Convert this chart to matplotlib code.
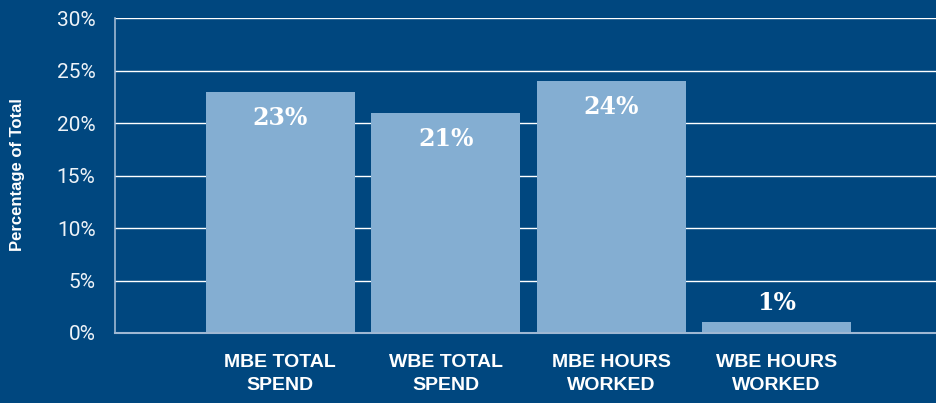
import matplotlib.pyplot as plt
import numpy as np

categories = ["MBE TOTAL\nSPEND", "WBE TOTAL\nSPEND", "MBE HOURS\nWORKED", "WBE HOURS\nWORKED"]
values = [23, 21, 24, 1]
value_labels = ["23%", "21%", "24%", "1%"]
y_ticks = [0, 5, 10, 15, 20, 25, 30]

BG = "#00477f"
BAR = "#84aed2"
SANS = ["Roboto", "Liberation Sans", "DejaVu Sans"]
BOLD = ["Liberation Sans", "DejaVu Sans"]

fig = plt.figure(figsize=(9.37, 4.03), dpi=100, facecolor=BG)
ax = fig.add_axes([0.1227, 0.1737, 0.8773, 0.7816], facecolor=BG)

x = np.arange(len(categories))
ax.bar(x, values, width=0.9, color=BAR, zorder=2)

for xi, v, lab in zip(x, values, value_labels):
    # big bars get the label inside, the small one sits above
    y = v - 2.5 if v > 5 else v + 1.9
    ax.text(xi, y, lab, ha="center", va="center", color="white",
            fontsize=17, fontweight="bold", family="DejaVu Serif", zorder=3)

ax.set_xlim(-1, 3.97)
ax.set_ylim(0, 30)
ax.set_yticks(y_ticks)
ax.set_yticklabels([f"{t}%" for t in y_ticks], family=SANS,
                   fontsize=15, color="#eef3f8")
ax.set_xticks(x)
ax.set_xticklabels(categories, family=BOLD, fontsize=14, fontweight="bold",
                   color="white", linespacing=1.45)
ax.tick_params(axis="y", length=0, pad=14)
ax.tick_params(axis="x", length=0, pad=15)

fig.text(0.019, 0.566, "Percentage of Total", rotation=90, ha="center", va="center",
         family=BOLD, fontsize=12, fontweight="bold", color="white")

ax.grid(axis="y", color="white", linewidth=1.0, zorder=1)
ax.set_axisbelow(True)
for side in ["top", "right"]:
    ax.spines[side].set_visible(False)
ax.spines["left"].set_color("#9fb8d3")
ax.spines["bottom"].set_color("#9fb8d3")
ax.spines["left"].set_linewidth(1.2)
ax.spines["bottom"].set_linewidth(1.5)
ax.spines["left"].set_zorder(4)
ax.spines["bottom"].set_zorder(4)

fig.savefig("out.png", dpi=100, facecolor=BG)
